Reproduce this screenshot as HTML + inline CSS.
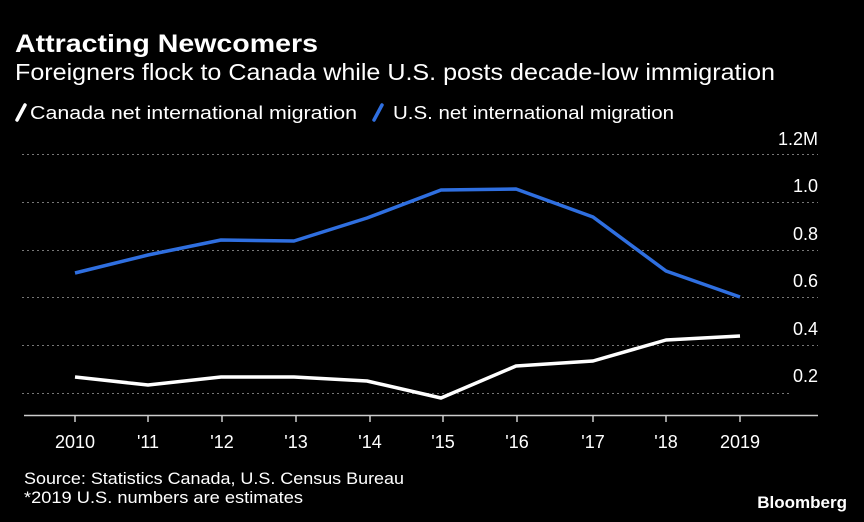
<!DOCTYPE html>
<html><head><meta charset="utf-8"><style>
html,body{margin:0;padding:0;background:#000;width:864px;height:522px;overflow:hidden}
text{font-family:"Liberation Sans",sans-serif;fill:#fff}
</style></head><body>
<svg width="864" height="522" viewBox="0 0 864 522" xmlns="http://www.w3.org/2000/svg">
<rect width="864" height="522" fill="#000"/>
<text x="15" y="52" font-size="25" font-weight="bold" textLength="303" lengthAdjust="spacingAndGlyphs">Attracting Newcomers</text>
<text x="15" y="80" font-size="23" textLength="760" lengthAdjust="spacingAndGlyphs" fill="#eee">Foreigners flock to Canada while U.S. posts decade-low immigration</text>
<line x1="17" y1="120" x2="25" y2="105" stroke="#fff" stroke-width="3.5" stroke-linecap="round"/>
<text x="30" y="119" font-size="18" textLength="327" lengthAdjust="spacingAndGlyphs" fill="#ddd">Canada net international migration</text>
<line x1="374" y1="120" x2="382" y2="105" stroke="#2f6fe0" stroke-width="3.5" stroke-linecap="round"/>
<text x="393" y="119" font-size="18" textLength="281" lengthAdjust="spacingAndGlyphs" fill="#ddd">U.S. net international migration</text>
<g stroke="#777" stroke-width="1" stroke-dasharray="2,3">
<line x1="22" y1="154.5" x2="818" y2="154.5"/>
<line x1="22" y1="202.5" x2="818" y2="202.5"/>
<line x1="22" y1="250.5" x2="818" y2="250.5"/>
<line x1="22" y1="297.5" x2="818" y2="297.5"/>
<line x1="22" y1="345.5" x2="818" y2="345.5"/>
<line x1="22" y1="393.5" x2="790" y2="393.5"/>
</g>
<g font-size="18" text-anchor="end" fill="#ddd">
<text x="818" y="145">1.2M</text>
<text x="818" y="192">1.0</text>
<text x="818" y="240">0.8</text>
<text x="818" y="287">0.6</text>
<text x="818" y="335">0.4</text>
<text x="818" y="382">0.2</text>
</g>
<line x1="24" y1="415.5" x2="818" y2="415.5" stroke="#ccc" stroke-width="1.5"/>
<g stroke="#ccc" stroke-width="1.5">
<line x1="75" y1="416" x2="75" y2="422"/><line x1="148" y1="416" x2="148" y2="422"/>
<line x1="222" y1="416" x2="222" y2="422"/><line x1="296" y1="416" x2="296" y2="422"/>
<line x1="370" y1="416" x2="370" y2="422"/><line x1="443" y1="416" x2="443" y2="422"/>
<line x1="517" y1="416" x2="517" y2="422"/><line x1="593" y1="416" x2="593" y2="422"/>
<line x1="666" y1="416" x2="666" y2="422"/><line x1="740" y1="416" x2="740" y2="422"/>
</g>
<g font-size="18" text-anchor="middle" fill="#ddd">
<text x="75" y="448">2010</text><text x="148" y="448">'11</text><text x="222" y="448">'12</text>
<text x="296" y="448">'13</text><text x="370" y="448">'14</text><text x="443" y="448">'15</text>
<text x="517" y="448">'16</text><text x="593" y="448">'17</text><text x="666" y="448">'18</text>
<text x="740" y="448">2019</text>
</g>
<polyline fill="none" stroke="#2f6fe0" stroke-width="3.5" stroke-linejoin="round" points="75,273 148,255 221,240 294,241 367,218 441,190 516,189 593,217 666,271 740,297"/>
<polyline fill="none" stroke="#fff" stroke-width="3.5" stroke-linejoin="round" points="75,377 148,385 221,377 294,377 367,381 441,398 516,366 593,361 666,340 740,336"/>
<text x="24" y="484" font-size="17" textLength="380" lengthAdjust="spacingAndGlyphs" fill="#ddd">Source: Statistics Canada, U.S. Census Bureau</text>
<text x="24" y="503" font-size="17" textLength="279" lengthAdjust="spacingAndGlyphs" fill="#ddd">*2019 U.S. numbers are estimates</text>
<text x="847" y="508" font-size="17" font-weight="bold" text-anchor="end" fill="#ddd">Bloomberg</text>
</svg>
</body></html>
